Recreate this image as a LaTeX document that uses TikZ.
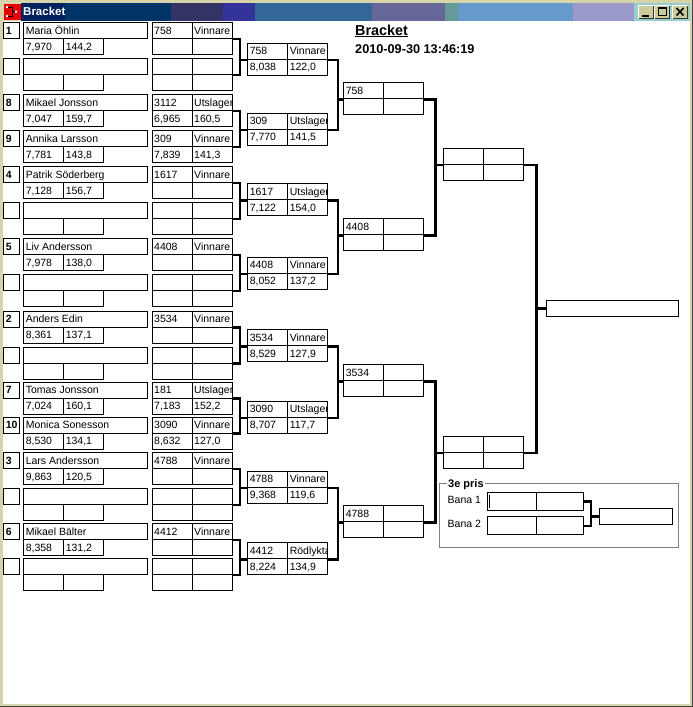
\documentclass[tikz,border=0pt]{standalone}
\usepackage{fontspec}
\setmainfont{Liberation Sans}
\usetikzlibrary{calc, positioning}

\definecolor{winframe}{HTML}{D6D4A8}
\definecolor{btnface}{HTML}{CCCC99}
\definecolor{icored}{HTML}{E80000}
\definecolor{tbA}{HTML}{00205F}
\definecolor{tbB}{HTML}{003366}
\definecolor{tbC}{HTML}{333366}
\definecolor{tbD}{HTML}{333399}
\definecolor{tbE}{HTML}{336699}
\definecolor{tbF}{HTML}{666699}
\definecolor{tbG}{HTML}{669999}
\definecolor{tbH}{HTML}{6699CC}
\definecolor{tbI}{HTML}{9999CC}
\definecolor{tbJ}{HTML}{99CCCC}
\newcommand{\cellfont}{\fontsize{10.5}{12}\selectfont}

\begin{document}
\begin{tikzpicture}[x=1pt, y=-1pt,
    cell/.style={rectangle, draw, line width=1, anchor=north west, inner sep=0, minimum width=40, minimum height=16},
    namecell/.style={cell, minimum width=124},
    seedcell/.style={cell, minimum width=16},
    txt/.style={path picture={\node[anchor=base west, inner sep=0, minimum width=0, minimum height=0, font=\cellfont]
        at ([shift={(1.5pt,-11.7pt)}]path picture bounding box.north west) {#1};}},
    bline/.style={line width=2.4}]
\useasboundingbox (0,0) rectangle (693,707);

% window
\fill[winframe] (0,0) rectangle (693,707);
\fill[white] (3,21) rectangle (690,704);
\draw[black!75, line width=1.5] (692.25,0) -- (692.25,707) (0,706.25) -- (693,706.25);
\foreach \xa/\xb/\col in {21/65/tbA, 65/171/tbB, 171/223/tbC, 223/255/tbD, 255/372/tbE,
    372/445/tbF, 445/458/tbG, 458/573/tbH, 573/634/tbI, 634/690/tbJ}
  \fill[\col] (\xa,3) rectangle (\xb,21);
\fill[icored] (3.5,3.5) rectangle (21,19.5);
\fill[white] (6,6) rectangle (8,8) (6,15) rectangle (8,17) (15,10.5) rectangle (17,12.5);
\draw[line width=1] (8,7) -| (12,16) -- (8,16) (12,11.5) -- (15,11.5);
\node[anchor=base west, inner sep=0, text=white, font=\bfseries\fontsize{11.5}{12}\selectfont] (wintitle) at (23,15.7) {Bracket};
\foreach \bx in {638,654,672}{
  \fill[btnface] (\bx,5) rectangle (\bx+16,19);
  \draw[white] (\bx+0.5,18.5) |- (\bx+15.5,5.5);
  \draw[black!80] (\bx+0.5,18.5) -| (\bx+15.5,5.5);
}
\fill (642,14.5) rectangle (649,16.5);
\draw[line width=1] (658.5,7.5) rectangle (666.5,15.5);
\draw[line width=2] (658,8) -- (667,8);
\draw[line width=1.6] (676.5,8) -- (683.5,15.5) (683.5,8) -- (676.5,15.5);

% heading
\node[anchor=base west, inner sep=0, font=\bfseries\fontsize{14.4}{16}\selectfont] (head) at (355,35) {\underline{Bracket}};
\node[anchor=base west, inner sep=0, font=\bfseries\fontsize{12.7}{14}\selectfont] (stamp) at (355,53.3) {2010-09-30 13:46:19};

% first round: seed, driver, times, result
\foreach \yy/\seed/\who/\et/\kmh/\car/\verdict/\etb/\kmhb [count=\i] in {
    22/1/Maria Öhlin/{7,970}/{144,2}/758/Vinnare/{}/{},
    58/{}/{}/{}/{}/{}/{}/{}/{},
    94/8/Mikael Jonsson/{7,047}/{159,7}/3112/Utslager/{6,965}/{160,5},
    130/9/Annika Larsson/{7,781}/{143,8}/309/Vinnare/{7,839}/{141,3},
    166/4/Patrik Söderberg/{7,128}/{156,7}/1617/Vinnare/{}/{},
    202/{}/{}/{}/{}/{}/{}/{}/{},
    238/5/Liv Andersson/{7,978}/{138,0}/4408/Vinnare/{}/{},
    274/{}/{}/{}/{}/{}/{}/{}/{},
    310.5/2/Anders Edin/{8,361}/{137,1}/3534/Vinnare/{}/{},
    346.5/{}/{}/{}/{}/{}/{}/{}/{},
    381.5/7/Tomas Jonsson/{7,024}/{160,1}/181/Utslager/{7,183}/{152,2},
    416.5/10/Monica Sonesson/{8,530}/{134,1}/3090/Vinnare/{8,632}/{127,0},
    452/3/Lars Andersson/{9,863}/{120,5}/4788/Vinnare/{}/{},
    488/{}/{}/{}/{}/{}/{}/{}/{},
    523/6/Mikael Bälter/{8,358}/{131,2}/4412/Vinnare/{}/{},
    558/{}/{}/{}/{}/{}/{}/{}/{}}{
  \node[seedcell, txt=\textbf{\seed}] (rk\i) at (3.3,\yy) {};
  \node[namecell, txt=\who] (nm\i) at (23.3,\yy) {};
  \node[cell, txt=\et] (sa\i) at (23.3,\yy+16) {};
  \node[cell, txt=\kmh] (sb\i) at (63.3,\yy+16) {};
  \node[cell, txt=\car] (ca\i) at (151.7,\yy) {};
  \node[cell, txt=\verdict] (cb\i) at (191.7,\yy) {};
  \node[cell, txt=\etb] (cc\i) at (151.7,\yy+16) {};
  \node[cell, txt=\kmhb] (cd\i) at (191.7,\yy+16) {};
}

% second round
\foreach \yy/\car/\verdict/\et/\kmh [count=\m] in {
    42.7/758/Vinnare/{8,038}/{122,0},
    112.7/309/Utslager/{7,770}/{141,5},
    183.3/1617/Utslager/{7,122}/{154,0},
    256.7/4408/Vinnare/{8,052}/{137,2},
    329.3/3534/Vinnare/{8,529}/{127,9},
    400.7/3090/Utslager/{8,707}/{117,7},
    470.7/4788/Vinnare/{9,368}/{119,6},
    542.3/4412/Rödlykta/{8,224}/{134,9}}{
  \node[cell, txt=\car] (qa\m) at (247.3,\yy) {};
  \node[cell, txt=\verdict] (qb\m) at (287.3,\yy) {};
  \node[cell, txt=\et] (qc\m) at (247.3,\yy+16) {};
  \node[cell, txt=\kmh] (qd\m) at (287.3,\yy+16) {};
}

% semifinal, final rounds
\foreach \yy/\car [count=\j] in {82.3/758, 218.3/4408, 364.3/3534, 505.3/4788}{
  \node[cell, txt=\car] (ra\j) at (343.3,\yy) {};
  \node[cell] (rb\j) at (383.3,\yy) {};
  \node[cell] (rc\j) at (343.3,\yy+16) {};
  \node[cell] (rd\j) at (383.3,\yy+16) {};
}
\foreach \yy [count=\j] in {148, 436}{
  \node[cell] (ta\j) at (443.3,\yy) {};
  \node[cell] (tb\j) at (483.3,\yy) {};
  \node[cell] (tc\j) at (443.3,\yy+16) {};
  \node[cell] (td\j) at (483.3,\yy+16) {};
}
\node[cell, minimum width=132] (fin) at (545.5,300) {};

% brackets
\foreach \m in {1,...,8}{
  \pgfmathtruncatemacro\pa{2*\m-1}
  \pgfmathtruncatemacro\pb{2*\m}
  \draw[bline] (cb\pa.south east) -- ++(7,0) coordinate (k) |- (cb\pb.south east) (k) |- (qa\m.south west);
}
\foreach \j in {1,...,4}{
  \pgfmathtruncatemacro\pa{2*\j-1}
  \pgfmathtruncatemacro\pb{2*\j}
  \draw[bline] (qb\pa.south east) -- ++(9.7,0) coordinate (k) |- (qb\pb.south east) (k) |- (ra\j.south west);
}
\draw[bline] (rb1.south east) -- ++(11,0) coordinate (k) |- (rb2.south east) (k) |- (ta1.south west);
\draw[bline] (rb3.south east) -- ++(11,0) coordinate (k) |- (rb4.south east) (k) |- (ta2.south west);
\draw[bline] (tb1.south east) -- ++(12,0) coordinate (k) |- (tb2.south east) (k) |- (fin.west);

% third place
\draw[gray] (439.5,483.5) rectangle (678.5,547.5);
\node[anchor=base west, fill=white, inner xsep=1.5, inner ysep=1, font=\bfseries\fontsize{11}{12}\selectfont] (pris) at (446.5,487.3) {3e pris};
\node[anchor=base west, inner sep=0, font=\cellfont] (bana1) at (447.5,503.3) {Bana 1};
\node[anchor=base west, inner sep=0, font=\cellfont] (bana2) at (447.5,527.7) {Bana 2};
\node[cell, minimum width=49, minimum height=18] (b1a) at (487,492) {};
\node[cell, minimum width=47, minimum height=18] (b1b) at (536,492) {};
\node[cell, minimum width=49, minimum height=18] (b2a) at (487,516.3) {};
\node[cell, minimum width=47, minimum height=18] (b2b) at (536,516.3) {};
\node[cell, minimum width=73] (third) at (599,508) {};
\draw[bline] (b1b.east) -- ++(7,0) coordinate (k) |- (b2b.east) (k) |- (third.west);
\draw (489.5,494.5) -- (489.5,507.5);
\end{tikzpicture}
\end{document}
